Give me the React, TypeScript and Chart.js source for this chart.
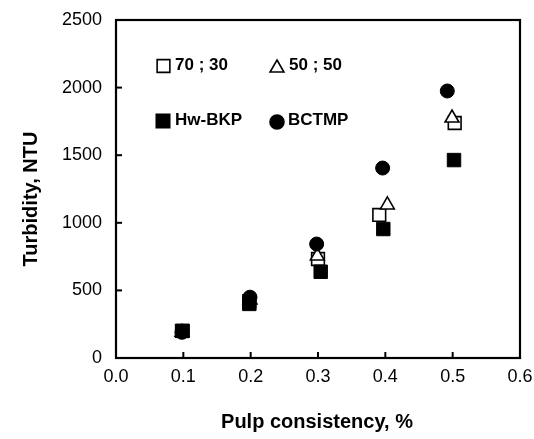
import React, { useEffect, useRef } from 'react';
import { Chart, registerables } from 'chart.js';

Chart.register(...registerables);

// Series (pulp consistency %, turbidity NTU)
const seriesNames = ['70 ; 30', '50 ; 50', 'Hw-BKP', 'BCTMP'];
const consistency7030 = [0.098, 0.198, 0.3, 0.391, 0.503];
const turbidity7030 = [200, 420, 732, 1058, 1738];
const consistency5050 = [0.098, 0.199, 0.299, 0.403, 0.499];
const turbidity5050 = [190, 430, 754, 1132, 1775];
const consistencyHw = [0.099, 0.198, 0.304, 0.397, 0.502];
const turbidityHw = [200, 400, 638, 954, 1464];
const consistencyBctmp = [0.098, 0.199, 0.298, 0.396, 0.492];
const turbidityBctmp = [190, 450, 843, 1405, 1975];

const xTickValues = [0, 0.1, 0.2, 0.3, 0.4, 0.5, 0.6];
const yTickValues = [0, 500, 1000, 1500, 2000, 2500];
const xTitle = 'Pulp consistency, %';
const yTitle = 'Turbidity, NTU';

const toPoints = (xs: number[], ys: number[]) => xs.map((x, i) => ({ x, y: ys[i] }));

function drawMarker(ctx: CanvasRenderingContext2D, style: string, x: number, y: number, r: number, filled: boolean) {
  ctx.save();
  ctx.beginPath();
  if (style === 'rect') {
    const s = Math.SQRT1_2 * r;
    ctx.rect(x - s, y - s, 2 * s, 2 * s);
  } else if (style === 'triangle') {
    for (let i = 0; i < 3; i++) {
      const a = (i * 2 * Math.PI) / 3;
      const px = x + Math.sin(a) * r;
      const py = y - Math.cos(a) * r;
      if (i === 0) ctx.moveTo(px, py);
      else ctx.lineTo(px, py);
    }
    ctx.closePath();
  } else {
    ctx.arc(x, y, r, 0, Math.PI * 2);
  }
  ctx.fillStyle = filled ? '#000' : '#fff';
  ctx.fill();
  ctx.lineWidth = 1.6;
  ctx.strokeStyle = '#000';
  ctx.stroke();
  ctx.restore();
}

const decorPlugin = {
  id: 'decor',
  afterDraw(chart: any) {
    const { ctx, chartArea } = chart;
    const { left, right, top, bottom } = chartArea;
    const xs = chart.scales.x;
    const ys = chart.scales.y;
    ctx.save();
    ctx.strokeStyle = '#000';
    // frame
    ctx.lineWidth = 2.2;
    ctx.strokeRect(left, top, right - left, bottom - top);
    // inward ticks
    ctx.lineWidth = 2;
    xTickValues.forEach((v) => {
      const px = xs.getPixelForValue(v);
      ctx.beginPath();
      ctx.moveTo(px, bottom);
      ctx.lineTo(px, bottom - 6);
      ctx.stroke();
    });
    yTickValues.forEach((v) => {
      const py = ys.getPixelForValue(v);
      ctx.beginPath();
      ctx.moveTo(left, py);
      ctx.lineTo(left + 6, py);
      ctx.stroke();
    });
    // axis titles
    ctx.fillStyle = '#000';
    ctx.font = 'bold 20px "Liberation Sans", Arial, sans-serif';
    ctx.textAlign = 'center';
    ctx.textBaseline = 'alphabetic';
    ctx.fillText(xTitle, (left + right) / 2 - 1, 428);
    ctx.save();
    ctx.translate(36.5, 199);
    ctx.rotate(-Math.PI / 2);
    ctx.fillText(yTitle, 0, 0);
    ctx.restore();
    // legend inside plot
    ctx.font = 'bold 17px "Liberation Sans", Arial, sans-serif';
    ctx.textAlign = 'left';
    const items = [
      { name: seriesNames[0], style: 'rect', r: 9, filled: false, mx: left + 47.5, my: top + 46, tx: left + 59, ty: top + 50 },
      { name: seriesNames[1], style: 'triangle', r: 8, filled: false, mx: left + 161, my: top + 48, tx: left + 173, ty: top + 50 },
      { name: seriesNames[2], style: 'rect', r: 9.5, filled: true, mx: left + 47, my: top + 101, tx: left + 59, ty: top + 105 },
      { name: seriesNames[3], style: 'circle', r: 7, filled: true, mx: left + 161, my: top + 102, tx: left + 172, ty: top + 105 },
    ];
    items.forEach((it) => {
      drawMarker(ctx, it.style, it.mx, it.my, it.r, it.filled);
      ctx.fillStyle = '#000';
      ctx.fillText(it.name, it.tx, it.ty);
    });
    ctx.restore();
  },
};

export default function App() {
  const canvasRef = useRef<HTMLCanvasElement | null>(null);

  useEffect(() => {
    const canvas = canvasRef.current;
    if (!canvas) return;
    const chart = new Chart(canvas, {
      type: 'scatter',
      data: {
        datasets: [
          {
            label: seriesNames[3],
            data: toPoints(consistencyBctmp, turbidityBctmp),
            pointStyle: 'circle',
            pointRadius: 7,
            backgroundColor: '#000',
            borderColor: '#000',
            borderWidth: 1,
          },
          {
            label: seriesNames[2],
            data: toPoints(consistencyHw, turbidityHw),
            pointStyle: 'rect',
            pointRadius: 9.5,
            backgroundColor: '#000',
            borderColor: '#000',
            borderWidth: 1,
          },
          {
            label: seriesNames[1],
            data: toPoints(consistency5050, turbidity5050),
            pointStyle: 'triangle',
            pointRadius: 8,
            backgroundColor: '#fff',
            borderColor: '#000',
            borderWidth: 1.6,
          },
          {
            label: seriesNames[0],
            data: toPoints(consistency7030, turbidity7030),
            pointStyle: 'rect',
            pointRadius: 9,
            backgroundColor: '#fff',
            borderColor: '#000',
            borderWidth: 1.6,
          },
        ],
      },
      options: {
        responsive: false,
        animation: false,
        devicePixelRatio: 1,
        layout: { padding: { top: 20, right: 14, bottom: 0, left: 0 } },
        plugins: { legend: { display: false }, tooltip: { enabled: false } },
        scales: {
          x: {
            type: 'linear',
            min: 0,
            max: 0.6,
            afterBuildTicks: (s: any) => {
              s.ticks = xTickValues.map((v) => ({ value: v }));
            },
            afterFit: (s: any) => {
              s.height = 81;
              s.paddingLeft = 0;
              s.paddingRight = 0;
            },
            grid: { display: false, drawTicks: false },
            border: { display: false },
            ticks: {
              color: '#000',
              padding: 8,
              font: { family: '"Liberation Sans", Arial, sans-serif', size: 18 },
              callback: (v: any) => Number(v).toFixed(1),
              maxRotation: 0,
            },
          },
          y: {
            type: 'linear',
            min: 0,
            max: 2500,
            afterBuildTicks: (s: any) => {
              s.ticks = yTickValues.map((v) => ({ value: v }));
            },
            afterFit: (s: any) => {
              s.width = 116;
              s.paddingTop = 0;
              s.paddingBottom = 0;
            },
            grid: { display: false, drawTicks: false },
            border: { display: false },
            ticks: {
              color: '#000',
              padding: 14,
              font: { family: '"Liberation Sans", Arial, sans-serif', size: 18 },
              callback: (v: any) => String(v),
            },
          },
        },
      },
      plugins: [decorPlugin],
    } as any);
    return () => chart.destroy();
  }, []);

  return (
    <div style={{ position: 'fixed', left: 0, top: 0, width: 534, height: 439, background: '#fff' }}>
      <canvas ref={canvasRef} width={534} height={439} style={{ width: 534, height: 439, display: 'block' }} />
    </div>
  );
}
